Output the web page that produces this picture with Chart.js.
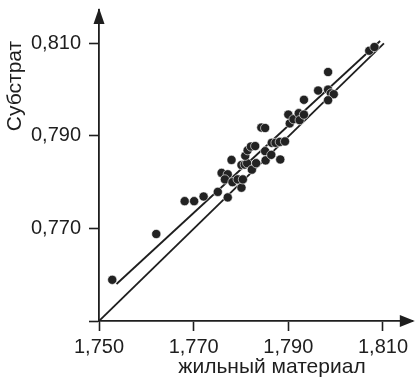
<!DOCTYPE html>
<html>
<head>
<meta charset="utf-8">
<script src="https://cdn.jsdelivr.net/npm/chart.js@4.4.1/dist/chart.umd.min.js"></script>
<style>
  html, body { margin: 0; padding: 0; background: #fff; }
  #wrap { width: 418px; height: 379px; }
</style>
</head>
<body>
<div id="wrap"><canvas id="chart"></canvas></div>
<script>
// axis ticks
const xTicks = [1.750, 1.770, 1.790, 1.810];
const yTicks = [0.750, 0.770, 0.790, 0.810];
const xTitle = 'жильный материал';
const yTitle = 'Субстрат';

const pointsX = [1.7528, 1.7621, 1.7681, 1.7701, 1.7721, 1.7751, 1.7772, 1.7801,
  1.7780, 1.7759, 1.7772, 1.7766, 1.7782, 1.7793, 1.7804, 1.7801, 1.7808, 1.7813,
  1.7809, 1.7814, 1.7821, 1.7830, 1.7823, 1.7832, 1.7851, 1.7852, 1.7864, 1.7883,
  1.7865, 1.7873, 1.7882, 1.7893, 1.7843, 1.7851, 1.7903, 1.7900, 1.7911, 1.7922,
  1.7924, 1.7933, 1.7933, 1.7963, 1.7984, 1.7984, 1.7990, 1.7996, 1.7984, 1.8071,
  1.8082];
const pointsY = [0.7589, 0.7688, 0.7759, 0.7759, 0.7769, 0.7779, 0.7767, 0.7788,
  0.7848, 0.7820, 0.7817, 0.7806, 0.7800, 0.7806, 0.7806, 0.7837, 0.7838, 0.7841,
  0.7857, 0.7869, 0.7877, 0.7878, 0.7827, 0.7841, 0.7867, 0.7847, 0.7859, 0.7849,
  0.7885, 0.7885, 0.7887, 0.7888, 0.7918, 0.7917, 0.7927, 0.7946, 0.7936, 0.7949,
  0.7934, 0.7946, 0.7978, 0.7998, 0.8038, 0.8000, 0.7992, 0.7990, 0.7977, 0.8084,
  0.8092];

// the two straight lines
const lowerLineX = [1.750, 1.8102];
const lowerLineY = [0.750, 0.8100];
const upperLineX = [1.7537, 1.8094];
const upperLineY = [0.7580, 0.8105];

const zip = (xs, ys) => xs.map((x, i) => ({ x: x, y: ys[i] }));
const fmt = v => v.toFixed(3).replace('.', ',');
const ink = '#1e1e1e';
const family = "'Liberation Sans', Arial, sans-serif";
const tickFont = { family: family, size: 20 };
const titleSize = 21;

const axisExtras = {
  id: 'axisExtras',
  afterDraw(chart) {
    const { ctx, chartArea: a } = chart;
    ctx.save();
    ctx.fillStyle = ink;
    // arrow heads
    ctx.beginPath();
    ctx.moveTo(a.left, a.top - 2);
    ctx.lineTo(a.left - 5.5, a.top + 14);
    ctx.lineTo(a.left + 5.5, a.top + 14);
    ctx.closePath();
    ctx.fill();
    ctx.beginPath();
    ctx.moveTo(a.right + 2, a.bottom);
    ctx.lineTo(a.right - 13, a.bottom - 6);
    ctx.lineTo(a.right - 13, a.bottom + 6);
    ctx.closePath();
    ctx.fill();
    // axis titles
    ctx.font = titleSize + 'px ' + family;
    ctx.textAlign = 'center';
    ctx.textBaseline = 'middle';
    ctx.fillText(xTitle, 272, 367);
    ctx.translate(15, 86);
    ctx.rotate(-Math.PI / 2);
    ctx.fillText(yTitle, 0, 0);
    ctx.restore();
  }
};

new Chart(document.getElementById('chart'), {
  type: 'scatter',
  data: {
    datasets: [
      {
        data: zip(pointsX, pointsY),
        pointRadius: 4.6,
        pointBackgroundColor: '#222222',
        pointBorderColor: '#ffffff',
        pointBorderWidth: 0.6,
        order: 0
      },
      {
        data: zip(lowerLineX, lowerLineY),
        showLine: true,
        pointRadius: 0,
        borderColor: ink,
        borderWidth: 1.8,
        order: 1
      },
      {
        data: zip(upperLineX, upperLineY),
        showLine: true,
        pointRadius: 0,
        borderColor: ink,
        borderWidth: 1.8,
        order: 1
      }
    ]
  },
  options: {
    responsive: true,
    maintainAspectRatio: false,
    animation: false,
    devicePixelRatio: 1,
    layout: { padding: { top: 10, right: 5, left: 0, bottom: 0 } },
    plugins: { legend: { display: false }, tooltip: { enabled: false } },
    scales: {
      x: {
        type: 'linear',
        min: 1.750,
        max: 1.8163,
        afterBuildTicks: s => { s.ticks = xTicks.map(v => ({ value: v })); },
        afterFit: s => { s.height = 58; s.paddingLeft = 0; s.paddingRight = 0; },
        ticks: {
          callback: v => fmt(v),
          font: tickFont,
          color: ink,
          padding: 4,
          maxRotation: 0,
          autoSkip: false
        },
        grid: { drawOnChartArea: false, drawTicks: true, tickLength: 10, tickColor: ink, tickWidth: 1.6 },
        border: { color: ink, width: 1.8 }
      },
      y: {
        type: 'linear',
        min: 0.750,
        max: 0.8172,
        afterBuildTicks: s => { s.ticks = yTicks.map(v => ({ value: v })); },
        afterFit: s => { s.width = 99; s.paddingTop = 0; s.paddingBottom = 0; },
        ticks: {
          callback: v => (v === yTicks[0] ? '' : fmt(v)),
          font: tickFont,
          color: ink,
          padding: 8,
          autoSkip: false
        },
        grid: { drawOnChartArea: false, drawTicks: true, tickLength: 10, tickColor: ink, tickWidth: 1.6 },
        border: { color: ink, width: 1.8 }
      }
    }
  },
  plugins: [axisExtras]
});
</script>
</body>
</html>
